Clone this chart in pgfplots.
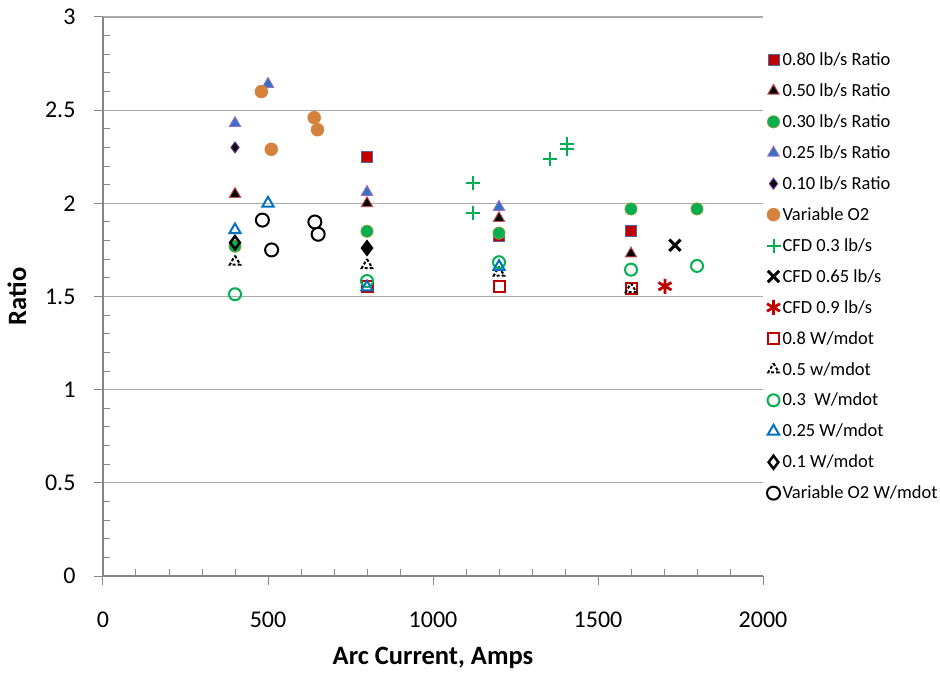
\documentclass[border=0pt]{standalone}
\usepackage{fontspec}
\setmainfont{Carlito}
\usepackage{pgfplots}
\pgfplotsset{compat=1.18}

\definecolor{xred}{RGB}{192,0,0}
\definecolor{xgreen}{RGB}{0,176,80}
\definecolor{xolive}{RGB}{120,160,70}
\definecolor{xblue}{RGB}{50,115,200}
\definecolor{xblueo}{RGB}{0,112,192}
\definecolor{xslate}{RGB}{80,100,160}
\definecolor{xbrick}{RGB}{192,80,77}
\definecolor{xpurple}{RGB}{112,48,160}
\definecolor{xorange}{RGB}{212,130,62}
\definecolor{gridgray}{RGB}{170,170,170}
\definecolor{axisgray}{RGB}{134,134,134}

\begin{document}
\begin{tikzpicture}
\useasboundingbox (0,0) rectangle (940pt,673pt);
\begin{axis}[
  at={(103pt,97pt)}, anchor=south west,
  scale only axis,
  width=660pt, height=559pt,
  xmin=0, xmax=2000, ymin=0, ymax=3,
  xtick={0,500,...,2000},
  ytick={0,0.5,...,3},
  minor x tick num=4,
  minor y tick num=4,
  axis x line*=bottom, axis y line*=left,
  axis line style={axisgray, line width=1.2pt, -},
  tick style={axisgray, line width=1pt},
  tick align=outside,
  major tick length=9pt,
  minor tick length=7pt,
  minor x tick style={yshift=7pt},
  minor y tick style={xshift=7pt},
  ymajorgrids,
  major grid style={gridgray, line width=1.2pt},
  clip=false,
  /pgf/number format/assume math mode=true,
  /pgf/number format/fixed,
  /pgf/number format/1000 sep={},
  tick label style={font=\fontsize{24}{28}\selectfont, black},
  yticklabel style={xshift=-15pt},
  xticklabel style={yshift=-23pt},
  xlabel={\textbf{Arc Current, Amps}},
  ylabel={\textbf{Ratio}},
  label style={font=\fontsize{26.5}{30}\selectfont},
  xlabel style={at={(0.5,0)}, anchor=center, yshift=-82pt},
  ylabel style={at={(0,0.5)}, anchor=center, yshift=86pt},
  legend cell align=left,
  legend style={draw=none, fill=none, at={(1.005,0.94)}, anchor=north west,
    font=\fontsize{18.5}{22}\selectfont, row sep=12.6pt, inner sep=0pt,
    nodes={inner sep=2pt}},
  legend image code/.code={\draw[mark repeat=2,mark phase=2,#1] plot coordinates {(0pt,0pt) (6pt,0pt) (14pt,0pt)};},
  only marks,
]
% 0.80 lb/s Ratio
\addplot[mark=square*, mark size=5.5pt, fill=xred, draw=xslate, line width=1pt]
  coordinates {(800,2.25) (1200,1.825) (1600,1.85)};
\addlegendentry{0.80 lb/s Ratio}
% 0.50 lb/s Ratio
\addplot[mark=triangle*, mark size=6.5pt, fill=black, draw=xbrick, line width=1pt]
  coordinates {(400,2.05) (800,2.0) (1200,1.92) (1600,1.73)};
\addlegendentry{0.50 lb/s Ratio}
% 0.30 lb/s Ratio
\addplot[mark=*, mark size=6pt, fill=xgreen, draw=xolive, line width=1pt]
  coordinates {(400,1.77) (800,1.85) (1200,1.84) (1600,1.97) (1800,1.97)};
\addlegendentry{0.30 lb/s Ratio}
% 0.25 lb/s Ratio
\addplot[mark=triangle*, mark size=6.5pt, fill=xblue, draw=xpurple!70, line width=1pt]
  coordinates {(400,2.43) (500,2.64) (800,2.06) (1200,1.98)};
\addlegendentry{0.25 lb/s Ratio}
% 0.10 lb/s Ratio
\addplot[mark=diamond*, mark size=5.5pt, fill=black, draw=xpurple, line width=1pt]
  coordinates {(400,2.30) (800,1.76)};
\addlegendentry{0.10 lb/s Ratio}
% Variable O2
\addplot[mark=*, mark size=6.5pt, fill=xorange, draw=xorange]
  coordinates {(480,2.60) (510,2.29) (640,2.46) (650,2.395)};
\addlegendentry{Variable O2}
% CFD 0.3 lb/s
\addplot[mark=+, mark size=7pt, draw=xgreen, line width=2pt]
  coordinates {(1120,2.11) (1120,1.95) (1355,2.24) (1405,2.32) (1405,2.29)};
\addlegendentry{CFD 0.3 lb/s}
% CFD 0.65 lb/s
\addplot[mark=x, mark size=8pt, draw=black, line width=3pt]
  coordinates {(1733,1.775)};
\addlegendentry{CFD 0.65 lb/s}
% CFD 0.9 lb/s
\addplot[mark=asterisk, mark size=7.5pt, draw=xred, line width=2.8pt]
  coordinates {(1703,1.555)};
\addlegendentry{CFD 0.9 lb/s}
% 0.8 W/mdot
\addplot[mark=square, mark size=5.5pt, draw=xred, line width=2pt]
  coordinates {(800,1.553) (1200,1.553) (1600,1.542)};
\addlegendentry{0.8 W/mdot}
% 0.5 w/mdot
\addplot[mark=triangle, mark size=6pt, draw=black, line width=2pt,
  mark options={dashed, dash pattern=on 3pt off 2pt}]
  coordinates {(400,1.687) (800,1.669) (1200,1.628) (1600,1.54)};
\addlegendentry{0.5 w/mdot}
% 0.3 W/mdot
\addplot[mark=o, mark size=6pt, draw=xgreen, line width=2pt]
  coordinates {(400,1.512) (800,1.583) (1200,1.684) (1600,1.644) (1800,1.664)};
\addlegendentry{0.3 \ W/mdot}
% 0.25 W/mdot
\addplot[mark=triangle, mark size=6.5pt, draw=xblueo, line width=2pt]
  coordinates {(400,1.857) (500,2.0) (800,1.55) (1200,1.66)};
\addlegendentry{0.25 W/mdot}
% 0.1 W/mdot
\addplot[mark=diamond, mark size=6.5pt, draw=black, line width=2.5pt]
  coordinates {(400,1.789) (800,1.76)};
\addlegendentry{0.1 W/mdot}
% Variable O2 W/mdot
\addplot[mark=o, mark size=6.5pt, draw=black, line width=2pt]
  coordinates {(483,1.91) (511,1.75) (642,1.90) (652,1.834)};
\addlegendentry{Variable O2 W/mdot}
\end{axis}
\end{tikzpicture}
\end{document}
